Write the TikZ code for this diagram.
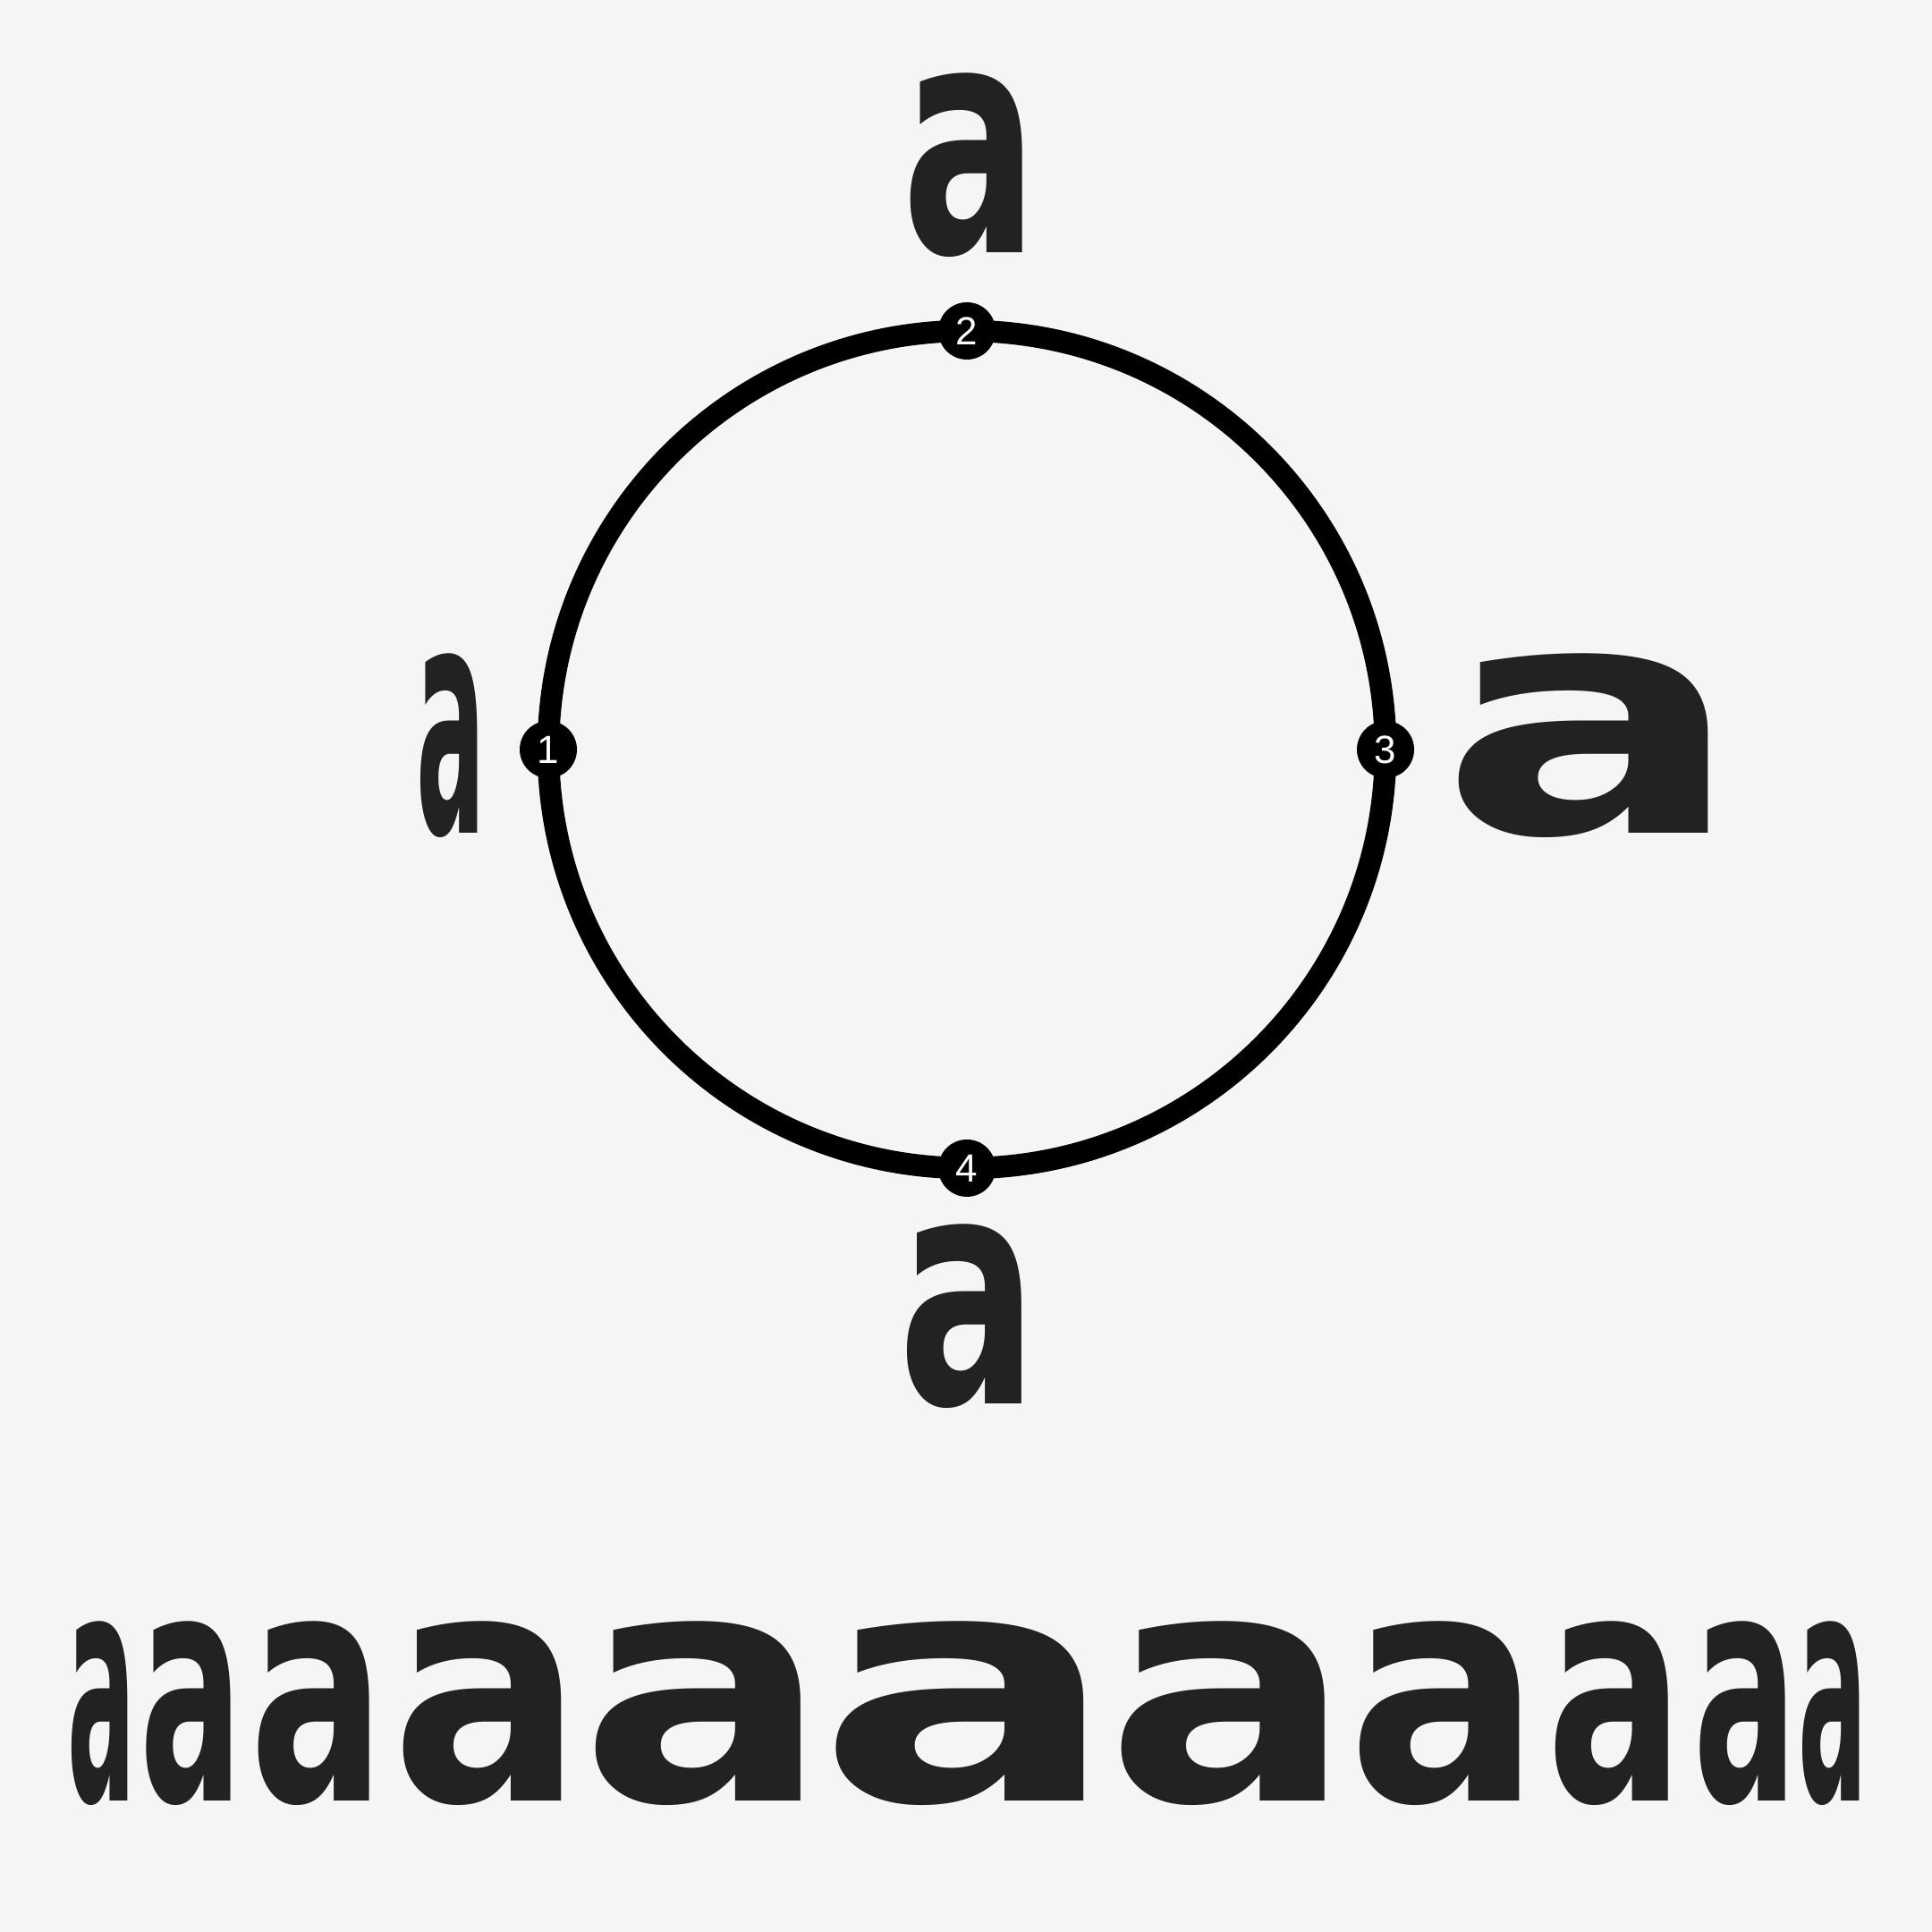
\documentclass[tikz,border=0pt]{standalone}
\usepackage{fontspec}
\setmainfont{DejaVu Sans}
\newfontfamily\numfont{Liberation Sans}
\usepackage{tikz}
\usetikzlibrary{positioning}
\definecolor{paper}{HTML}{F5F5F5}
\definecolor{ink}{HTML}{222222}

\begin{document}
\begin{tikzpicture}[
    glyph/.style={xscale=#1, anchor=base, inner sep=0pt, text=ink,
                  font=\fontsize{102}{102}\selectfont\bfseries},
    glyph/.default=1,
    marker/.style={circle, fill=black, text=white, minimum size=0.64cm,
                   inner sep=0pt, font=\numfont\fontsize{12.5}{12.5}\selectfont},
    ring/.style={draw=black, line width=0.245cm}
]

% Canvas
\fill[paper] (0,0) rectangle (21.6,21.6);
\useasboundingbox (0,0) rectangle (21.6,21.6);

% Design space
\coordinate (space) at (10.81,13.22);
\draw[ring] (space) circle[radius=4.68cm];

% Masters
\node[marker] at ([xshift=-4.68cm]space) (m1) {1};
\node[marker] at ([yshift=4.68cm]space) (m2) {2};
\node[marker] at ([xshift=4.68cm]space) (m3) {3};
\node[marker] at ([yshift=-4.68cm]space) (m4) {4};

\node[glyph=0.32] at (5.042,12.28) (a1) {a};
\node[glyph=0.63] at (10.844,18.77) (a2) {a};
\node[glyph=1.405] at (17.798,12.28) (a3) {a};
\node[glyph=0.645] at (10.825,5.90) (a4) {a};

% Interpolated instances
\node[glyph=0.315] at (1.137,1.46) (i1) {a};
\node[glyph=0.475] at (2.138,1.46) (i2) {a};
\node[glyph=0.625] at (3.549,1.46) (i3) {a};
\node[glyph=0.89] at (5.452,1.46) (i4) {a};
\node[glyph=1.155] at (7.881,1.46) (i5) {a};
\node[glyph=1.395] at (10.823,1.46) (i6) {a};
\node[glyph=1.145] at (13.745,1.46) (i7) {a};
\node[glyph=0.90] at (16.153,1.46) (i8) {a};
\node[glyph=0.635] at (18.059,1.46) (i9) {a};
\node[glyph=0.48] at (19.514,1.46) (i10) {a};
\node[glyph=0.32] at (20.492,1.46) (i11) {a};

\end{tikzpicture}
\end{document}
